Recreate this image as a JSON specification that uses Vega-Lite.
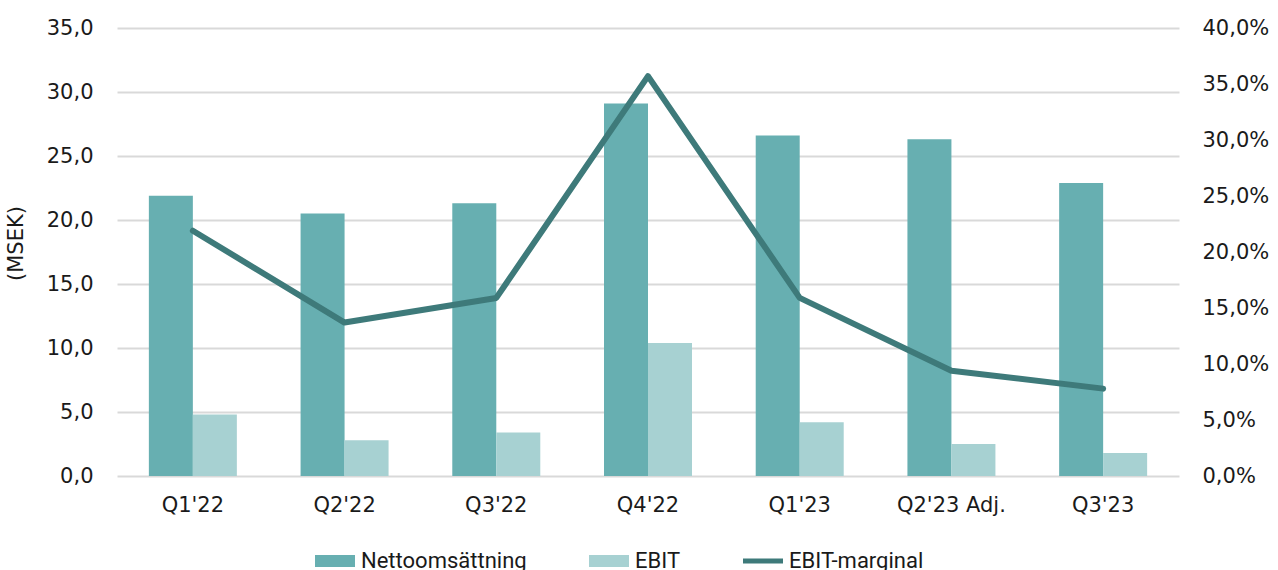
{
  "$schema": "https://vega.github.io/schema/vega-lite/v6.json",
  "autosize": "none",
  "width": 1062,
  "height": 448,
  "padding": {"left": 117, "top": 28, "right": 99, "bottom": 94},
  "config": {
    "locale": {"number": {"decimal": ",", "thousands": " ", "grouping": [3], "currency": ["", " kr"]}},
    "font": "DejaVu Sans",
    "view": {"stroke": null},
    "axis": {"labelFont": "DejaVu Sans", "labelFontSize": 21, "labelColor": "#1a1a1a", "titleFont": "DejaVu Sans", "titleFontSize": 21, "titleFontWeight": "normal", "titleColor": "#1a1a1a", "ticks": false, "domain": false, "labelOverlap": false},
    "legend": {"labelFont": "Roboto", "labelFontSize": 22, "labelColor": "#1a1a1a", "labelLimit": 400}
  },
  "data": {
    "values": [
      {"kvartal": "Q1'22", "Nettoomsättning": 21.9, "EBIT": 4.8, "marginal": 0.219},
      {"kvartal": "Q2'22", "Nettoomsättning": 20.5, "EBIT": 2.8, "marginal": 0.137},
      {"kvartal": "Q3'22", "Nettoomsättning": 21.3, "EBIT": 3.4, "marginal": 0.159},
      {"kvartal": "Q4'22", "Nettoomsättning": 29.1, "EBIT": 10.4, "marginal": 0.357},
      {"kvartal": "Q1'23", "Nettoomsättning": 26.6, "EBIT": 4.2, "marginal": 0.159},
      {"kvartal": "Q2'23 Adj.", "Nettoomsättning": 26.3, "EBIT": 2.5, "marginal": 0.094},
      {"kvartal": "Q3'23", "Nettoomsättning": 22.9, "EBIT": 1.8, "marginal": 0.078}
    ]
  },
  "encoding": {
    "x": {
      "field": "kvartal", "type": "nominal", "sort": null,
      "scale": {"paddingInner": 0.42, "paddingOuter": 0.21},
      "axis": {"title": null, "labelAngle": 0, "labelPadding": 18, "grid": false}
    }
  },
  "layer": [
    {
      "transform": [{"fold": ["Nettoomsättning", "EBIT"], "as": ["serie", "belopp"]}],
      "mark": {"type": "bar"},
      "encoding": {
        "xOffset": {"field": "serie", "type": "nominal", "sort": ["Nettoomsättning", "EBIT"], "scale": {"paddingInner": 0, "paddingOuter": 0}},
        "y": {
          "field": "belopp", "type": "quantitative",
          "scale": {"domain": [0, 35], "nice": false},
          "axis": {"title": "(MSEK)", "format": ".1f", "values": [0, 5, 10, 15, 20, 25, 30, 35], "labelPadding": 24, "titlePadding": 20, "titleY": 215, "grid": true, "gridColor": "#d9d9d9", "gridWidth": 2}
        },
        "color": {
          "field": "serie", "type": "nominal",
          "scale": {"domain": ["Nettoomsättning", "EBIT", "EBIT-marginal"], "range": ["#67afb1", "#a7d1d2", "#3e7a7a"]},
          "legend": {
            "title": null, "orient": "none", "direction": "horizontal", "legendX": 198, "legendY": 513,
            "symbolSize": 1600, "columnPadding": 62, "labelOffset": 6,
            "encode": {"symbols": {"update": {
              "shape": {"signal": "datum.value === 'EBIT-marginal' ? 'M-1,-0.12H1V0.12H-1Z' : 'M-1,-0.3H1V0.3H-1Z'"},
              "strokeWidth": {"value": 0}
            }}}
          }
        }
      }
    },
    {
      "mark": {"type": "line", "strokeWidth": 6, "strokeCap": "round", "strokeJoin": "round"},
      "encoding": {
        "y": {
          "field": "marginal", "type": "quantitative",
          "scale": {"domain": [0, 0.4], "nice": false},
          "axis": {"title": null, "orient": "right", "format": ".1%", "values": [0, 0.05, 0.1, 0.15, 0.2, 0.25, 0.3, 0.35, 0.4], "labelPadding": 23, "grid": false}
        },
        "color": {"datum": "EBIT-marginal"}
      }
    }
  ],
  "resolve": {"scale": {"y": "independent"}}
}
